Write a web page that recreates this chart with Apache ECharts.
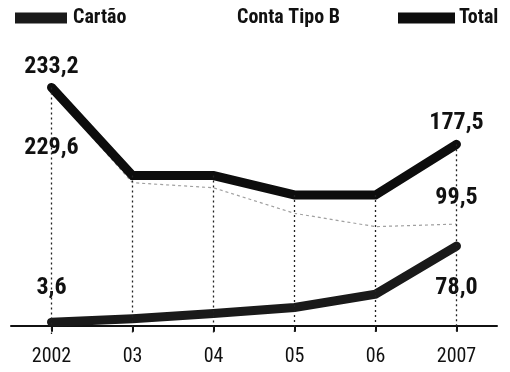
<!DOCTYPE html>
<html>
<head>
<meta charset="utf-8">
<script src="https://cdn.jsdelivr.net/npm/echarts@6/dist/echarts.min.js"></script>
<style>
  html, body { margin: 0; padding: 0; background: #fff; }
  #chart { width: 510px; height: 372px; }
</style>
</head>
<body>
<div id="chart"></div>
<script>
// Years on the horizontal axis
const categories = ['2002', '03', '04', '05', '06', '2007'];

// Values per year
const cartao = [3.6, 7, 12, 18, 31, 78.0];
const contaTipoB = [229.6, 140, 135, 110, 97, 99.5];
const total = [233.2, 147, 147, 128, 128, 177.5];

// Series names, in key order
const seriesNames = ['Cartão', 'Conta Tipo B', 'Total'];

// Vertical value range (axis hidden)
const yMin = -8;
const yMax = 260;

const FONT = "'Liberation Sans Narrow', 'Roboto Condensed', 'DejaVu Sans Condensed', 'Arial Narrow', sans-serif";
const INK = '#111';
const COLOR_CARTAO = '#1a1a1a';
const COLOR_TOTAL = '#0d0d0d';

const fmt = v => v.toFixed(1).replace('.', ',');

// Only the first and last value of each line carry a label
function labelled(values, first, last) {
  const n = values.length - 1;
  return values.map((v, i) => {
    if (i === 0) return { value: v, label: Object.assign({ show: true }, first) };
    if (i === n) return { value: v, label: Object.assign({ show: true }, last) };
    return v;
  });
}

const labelBase = {
  formatter: p => fmt(p.value),
  fontFamily: FONT,
  fontWeight: 'bold',
  fontSize: 24,
  color: INK,
  backgroundColor: '#fff',
  padding: [0, 2]
};

// Key across the top: flat rectangular swatch + bold caption
const KEY_Y = 18;
const keyEntries = [
  { name: seriesNames[0], swatchX: 15, swatchW: 52, textX: 73, color: COLOR_CARTAO },
  { name: seriesNames[1], swatchX: null, swatchW: 0, textX: 237, color: null },
  { name: seriesNames[2], swatchX: 398, swatchW: 57, textX: 459, color: COLOR_TOTAL }
];
const keyGraphics = [];
keyEntries.forEach(k => {
  if (k.color) {
    keyGraphics.push({
      type: 'rect', silent: true,
      shape: { x: k.swatchX, y: KEY_Y - 5.5, width: k.swatchW, height: 11 },
      style: { fill: k.color }
    });
  }
  keyGraphics.push({
    type: 'text', silent: true,
    style: {
      x: k.textX, y: KEY_Y, text: k.name,
      fill: INK, font: "bold 20px " + FONT,
      textAlign: 'left', textVerticalAlign: 'middle'
    }
  });
});

const chart = echarts.init(document.getElementById('chart'), null, { renderer: 'canvas' });

chart.setOption({
  animation: false,
  backgroundColor: '#fff',
  grid: { left: 11, right: 13, top: 60, bottom: 38 },
  graphic: keyGraphics,
  xAxis: {
    type: 'category',
    data: categories,
    boundaryGap: true,
    axisLine: { show: true, lineStyle: { color: INK, width: 2 } },
    axisTick: { show: true, alignWithLabel: true, length: 6, lineStyle: { color: INK, width: 2 } },
    axisLabel: { fontFamily: FONT, fontSize: 20, color: INK, margin: 13 },
    splitLine: { show: false }
  },
  yAxis: {
    type: 'value',
    min: yMin,
    max: yMax,
    show: false,
    splitLine: { show: false }
  },
  series: [
    {
      // dotted drop lines from each year's total down to the axis
      name: 'guides',
      type: 'line',
      data: [],
      silent: true,
      z: 1,
      markLine: {
        silent: true,
        symbol: ['none', 'none'],
        label: { show: false },
        lineStyle: { type: [2, 3], color: '#222', width: 1.3 },
        data: categories.map((c, i) => [
          { coord: [c, total[i]] },
          { coord: [c, yMin] }
        ])
      }
    },
    {
      name: seriesNames[1],
      type: 'line',
      z: 2,
      symbol: 'circle',
      symbolSize: 1,
      showSymbol: true,
      itemStyle: { color: '#fff' },
      lineStyle: { color: '#a0a0a0', width: 1.2, type: [3, 3] },
      label: labelBase,
      data: labelled(contaTipoB,
        { position: 'bottom', distance: 44 },
        { position: 'top', distance: 14 })
    },
    {
      name: seriesNames[0],
      type: 'line',
      z: 3,
      symbol: 'circle',
      symbolSize: 1,
      showSymbol: true,
      itemStyle: { color: COLOR_CARTAO },
      lineStyle: { color: COLOR_CARTAO, width: 9, cap: 'round', join: 'miter' },
      label: labelBase,
      data: labelled(cartao,
        { position: 'top', distance: 22 },
        { position: 'bottom', distance: 29 })
    },
    {
      name: seriesNames[2],
      type: 'line',
      z: 4,
      symbol: 'circle',
      symbolSize: 1,
      showSymbol: true,
      itemStyle: { color: COLOR_TOTAL },
      lineStyle: { color: COLOR_TOTAL, width: 9, cap: 'round', join: 'miter' },
      label: labelBase,
      data: labelled(total,
        { position: 'top', distance: 8 },
        { position: 'top', distance: 9 })
    }
  ]
});
</script>
</body>
</html>
